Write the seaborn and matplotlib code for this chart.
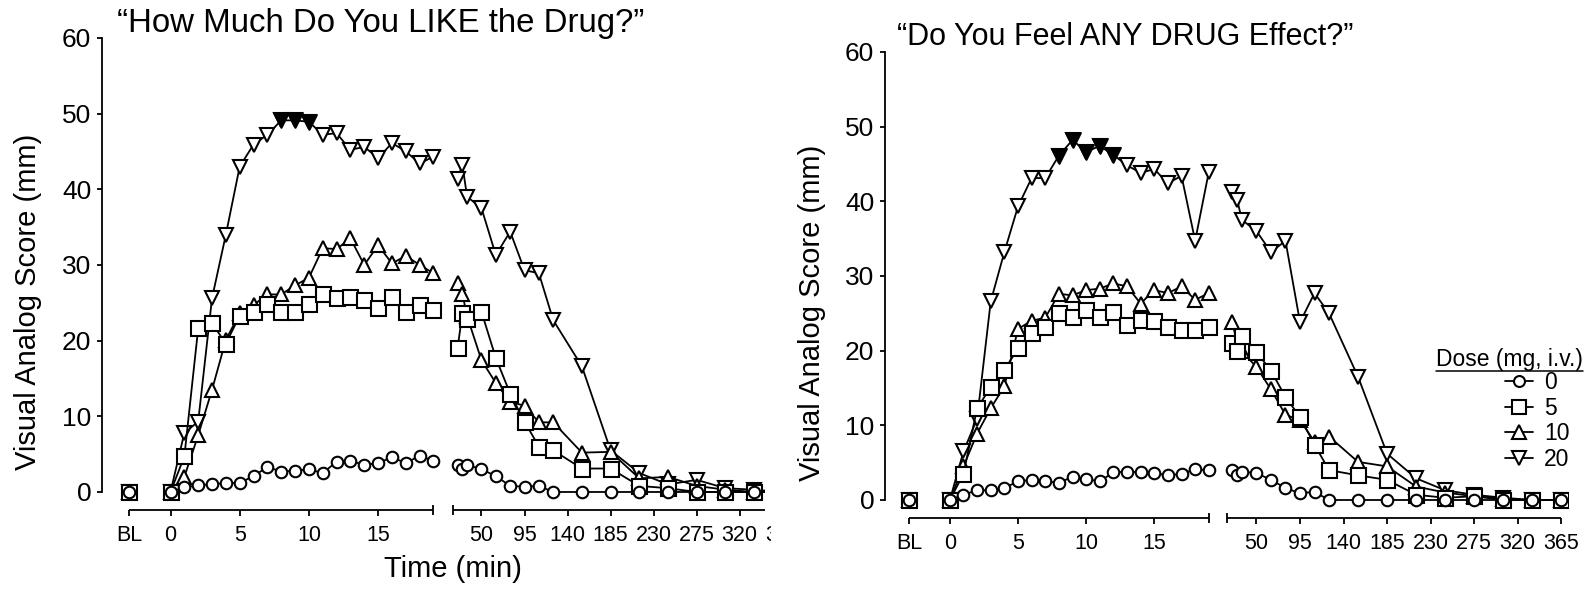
import numpy as np
import matplotlib
matplotlib.use("Agg")
import matplotlib.pyplot as plt
import seaborn as sns
from matplotlib.lines import Line2D
from matplotlib.text import Text
from matplotlib.transforms import Bbox, TransformedBbox

sns.set_style("ticks", {"axes.edgecolor": "black", "xtick.color": "black",
                        "ytick.color": "black", "text.color": "black",
                        "axes.labelcolor": "black"})
plt.rcParams["font.family"] = ["Liberation Sans", "DejaVu Sans"]

# ---------------- data ----------------
DOSES = ["0", "5", "10", "20"]
LEGEND_TITLE = "Dose (mg, i.v.)"
BL_TIME = -3                      # baseline, drawn left of time 0
EARLY_MIN = list(range(20))       # 0..19 min after injection
LATE_MIN = [25, 30, 35, 50, 65, 80, 95, 110, 125, 155, 185, 215, 245, 275, 305, 335, 365]
SEG2_START = 20
TICK_TIMES = [-3, 0, 5, 10, 15, 50, 95, 140, 185, 230, 275, 320, 365]
TICK_LABELS = ["BL", "0", "5", "10", "15", "50", "95", "140", "185", "230", "275", "320", "365"]
Y_TICKS = [0, 10, 20, 30, 40, 50, 60]
BASELINE = {"0": 0, "5": 0, "10": 0, "20": 0}

like_early = {
    "0": [0, 0.6, 0.9, 1.0, 1.2, 1.2, 2.1, 3.3, 2.7, 2.8, 3.0, 2.5, 4.0, 4.1, 3.6, 3.8, 4.6, 3.8, 4.8, 4.1],
    "5": [0, 4.7, 21.6, 22.3, 19.6, 23.3, 23.8, 24.8, 23.8, 23.8, 24.9, 26.2, 25.6, 25.8, 25.4, 24.3, 25.8, 23.8, 24.7, 24.0],
    "10": [0, 2.0, 7.5, 13.5, 20.1, 23.6, 24.7, 26.1, 26.1, 27.3, 28.3, 32.2, 32.1, 33.5, 30.0, 32.6, 30.2, 31.2, 30.0, 28.9],
    "20": [0, 7.8, 9.3, 25.6, 34.0, 43.0, 45.9, 47.2, 49.1, 49.1, 48.9, 47.2, 47.4, 45.2, 45.6, 44.1, 46.1, 45.0, 43.4, 44.3],
}
like_late = {
    "0": [3.6, 3.1, 3.6, 3.0, 2.1, 0.8, 0.7, 0.8, 0, 0, 0, 0, 0, 0, 0, 0, 0],
    "5": [19.0, 23.6, 22.8, 23.8, 17.7, 13.0, 9.3, 6.0, 5.5, 3.1, 3.1, 0.8, 0.5, 0, 0, 0, 0],
    "10": [27.6, 26.2, 23.2, 17.4, 14.4, 11.9, 11.4, 9.2, 9.2, 5.2, 5.3, 1.8, 2.0, 0.8, 0.3, 0, 0],
    "20": [41.4, 43.2, 39.0, 37.5, 31.3, 34.4, 29.3, 28.9, 22.7, 16.6, 5.5, 2.5, 1.0, 1.6, 0.5, 0.3, 0],
}
like_sig_minutes = [8, 9, 10]

effect_early = {
    "0": [0, 0.7, 1.3, 1.3, 1.6, 2.5, 2.7, 2.5, 2.3, 3.1, 2.8, 2.5, 3.7, 3.8, 3.7, 3.6, 3.3, 3.5, 4.1, 4.0],
    "5": [0, 3.5, 12.3, 15.1, 17.4, 20.3, 22.4, 23.2, 25.1, 24.5, 25.4, 24.5, 25.2, 23.4, 24.1, 24.0, 23.2, 22.8, 22.8, 23.2],
    "10": [0, 4.5, 8.9, 12.3, 15.2, 22.9, 24.0, 24.4, 27.6, 27.4, 28.1, 28.3, 29.0, 28.6, 26.3, 28.1, 27.7, 28.6, 26.8, 27.7],
    "20": [0, 6.5, 10.9, 26.6, 33.2, 39.3, 43.1, 43.1, 46.1, 48.2, 46.6, 47.4, 46.2, 44.8, 43.8, 44.3, 42.4, 43.4, 34.7, 43.9],
}
effect_late = {
    "0": [4.0, 3.3, 3.8, 3.6, 2.7, 1.6, 0.9, 1.1, 0, 0, 0, 0, 0, 0, 0, 0, 0],
    "5": [21.0, 20.0, 21.9, 19.8, 17.3, 13.8, 11.1, 7.4, 4.0, 3.3, 2.7, 0.7, 0.3, 0.5, 0, 0, 0],
    "10": [23.8, 21.0, 19.9, 17.8, 14.8, 11.4, 10.7, 7.8, 8.5, 5.1, 4.5, 1.8, 1.0, 0.5, 0.2, 0, 0],
    "20": [41.2, 40.2, 37.5, 36.0, 33.2, 34.7, 23.8, 27.7, 25.0, 16.5, 6.2, 2.9, 1.3, 0.7, 0.3, 0, 0],
}
effect_sig_minutes = [8, 9, 10, 11, 12]

# ---------------- style ----------------
MARKERS = {"0": "o", "5": "s", "10": "^", "20": "v"}
MSIZE = {"0": 8.3, "5": 10.8, "10": 10.5, "20": 10.5}
DRAW_ORDER = ["20", "10", "5", "0"]
LW = 1.3
MEW = 1.5

W, H = 1590, 590
fig = plt.figure(figsize=(W / 100, H / 100), dpi=100)


def make_break_scale(p50, k, seg1_end=19, seg2_start=SEG2_START):
    p2 = p50 - (50 - seg2_start) * k

    def fwd(t):
        t = np.asarray(t, dtype=float)
        return np.where(t <= seg1_end, t,
                        np.where(t < seg2_start,
                                 seg1_end + (t - seg1_end) * (p2 - seg1_end) / (seg2_start - seg1_end),
                                 p2 + (t - seg2_start) * k))

    def inv(p):
        p = np.asarray(p, dtype=float)
        return np.where(p <= seg1_end, p,
                        np.where(p < p2,
                                 seg1_end + (p - seg1_end) * (seg2_start - seg1_end) / (p2 - seg1_end),
                                 seg2_start + (p - p2) / k))
    return fwd, inv


def draw_panel(ax, early, late, sig_minutes, title, p50, k, xlim, ylim,
               title_xy, title_size, ylabel_xy):
    fwd, inv = make_break_scale(p50, k)
    ax.set_xscale("function", functions=(fwd, inv))
    for d in DRAW_ORDER:
        st = dict(marker=MARKERS[d], markersize=MSIZE[d], markerfacecolor="white",
                  markeredgecolor="black", markeredgewidth=MEW, color="black",
                  linewidth=LW)
        sns.lineplot(x=EARLY_MIN, y=early[d], ax=ax, **st)
        sns.lineplot(x=LATE_MIN, y=late[d], ax=ax, **st)
        sns.lineplot(x=[BL_TIME], y=[BASELINE[d]], ax=ax, **st)
    sig_vals = [early["20"][m] for m in sig_minutes]
    sns.scatterplot(x=sig_minutes, y=sig_vals, ax=ax, marker=MARKERS["20"],
                    s=MSIZE["20"] ** 2, color="black", edgecolor="black",
                    linewidth=MEW, zorder=5)

    # broken x axis: two baseline segments
    xt = ax.get_xaxis_transform()
    ax.plot([BL_TIME, EARLY_MIN[-1]], [0, 0], transform=xt, color="black",
            lw=LW, clip_on=False, solid_capstyle="butt")
    ax.plot([SEG2_START, LATE_MIN[-1]], [0, 0], transform=xt, color="black",
            lw=LW, clip_on=False, solid_capstyle="butt")

    ax.set_xticks(TICK_TIMES)
    ax.set_xticklabels(TICK_LABELS)
    ax.set_xticks([EARLY_MIN[-1], SEG2_START], minor=True)
    ax.set_yticks(Y_TICKS)
    ax.set_xlim(*xlim)
    ax.set_ylim(*ylim)

    for s in ["top", "right", "bottom"]:
        ax.spines[s].set_visible(False)
    ax.spines["left"].set_bounds(Y_TICKS[0], Y_TICKS[-1])
    ax.spines["left"].set_linewidth(LW)
    ax.tick_params(axis="y", direction="out", length=3.8, width=LW, labelsize=19, pad=4)
    ax.tick_params(axis="x", which="major", direction="out", length=4.5, width=LW,
                   labelsize=15.5, pad=6)
    ax.tick_params(axis="x", which="minor", direction="inout", length=7, width=LW)

    ax.set_ylabel("Visual Analog Score (mm)", fontsize=21)
    ax.yaxis.set_label_coords(*ylabel_xy)
    ax.set_xlabel("")
    ax.text(title_xy[0], title_xy[1], title, transform=ax.transAxes,
            fontsize=title_size, ha="left", va="baseline")


# left panel
axL = fig.add_axes([102 / W, 1 - 510 / H, 688 / W, (510 - 22.7) / H])
draw_panel(axL, like_early, like_late, like_sig_minutes,
           "\u201cHow Much Do You LIKE the Drug?\u201d",
           p50=22.47, k=0.0691, xlim=(-4.95, 372.6), ylim=(-2.38, 62),
           title_xy=(0.022, 0.981), title_size=23.8, ylabel_xy=(-0.087, 0.427))
axL.set_xlabel("Time (min)", fontsize=21)
axL.xaxis.set_label_coords(0.51, -0.093)

# right panel
axR = fig.add_axes([885 / W, 1 - 518 / H, 683 / W, (518 - 36.9) / H])
draw_panel(axR, effect_early, effect_late, effect_sig_minutes,
           "\u201cDo You Feel ANY DRUG Effect?\u201d",
           p50=22.5, k=0.071, xlim=(-4.76, 372), ylim=(-2.41, 62),
           title_xy=(0.0176, 0.983), title_size=22, ylabel_xy=(-0.0864, 0.426))

handles = [Line2D([], [], marker=MARKERS[d], markersize=MSIZE[d] * 0.95,
                  markerfacecolor="white", markeredgecolor="black",
                  markeredgewidth=MEW, color="black", lw=LW) for d in DOSES]
leg = axR.legend(handles, DOSES, loc="upper left",
                 bbox_to_anchor=(1505 / W, 1 - 371 / H), bbox_transform=fig.transFigure,
                 frameon=False, fontsize=16.5, handlelength=1.2,
                 handletextpad=0.5, labelspacing=0.12, borderpad=0, borderaxespad=0)
leg_title = axR.text(1583 / W, 1 - 366 / H, LEGEND_TITLE, transform=fig.transFigure,
                     ha="right", va="baseline", fontsize=16.5)

fig.canvas.draw()

# underline legend title
tb = leg_title.get_window_extent()
inv_fig = fig.transFigure.inverted()
(x0, y0), (x1, _) = inv_fig.transform([[tb.x0, tb.y0], [tb.x1, tb.y1]])
fig.add_artist(Line2D([x0, x1], [y0, y0], transform=fig.transFigure, color="black", lw=1.1))

# left panel is cropped at its right edge, as in the original figure
clip_marks = TransformedBbox(Bbox([[0, 0], [765 / W, 1]]), fig.transFigure)
clip_text = TransformedBbox(Bbox([[0, 0], [771 / W, 1]]), fig.transFigure)
for art in axL.findobj():
    if art is axL:
        continue
    art.set_clip_box(clip_text if isinstance(art, Text) else clip_marks)
    art.set_clip_on(True)

fig.savefig("out.png", dpi=100)
